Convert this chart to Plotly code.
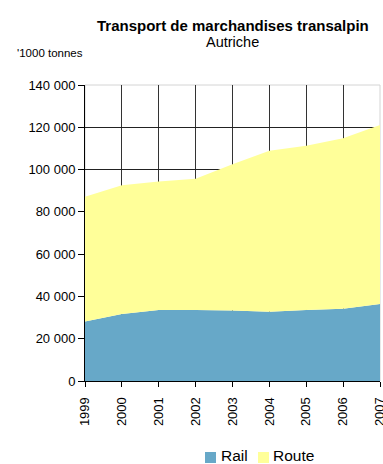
import plotly.graph_objects as go

years = [1999, 2000, 2001, 2002, 2003, 2004, 2005, 2006, 2007]
rail = [28100, 31700, 33600, 33600, 33400, 32800, 33600, 34200, 36400]
total = [87200, 92600, 94300, 95600, 102500, 108900, 111300, 114800, 121100]
route = [t - r for t, r in zip(total, rail)]
y_ticks = [0, 20000, 40000, 60000, 80000, 100000, 120000, 140000]
series_names = ["Rail", "Route"]
series_colors = ["#67A8C8", "#FFFF99"]

FONT = "Liberation Sans, Arial, sans-serif"

# plot area in pixels: left 85, right 380, top 85, bottom 381
L, R, T, B = 85, 380, 85, 381
def px(x):
    return (x - L) / (R - L)
def py(y):
    return (B - y) / (B - T)

fig = go.Figure()
for vals, name, col in zip([rail, route], series_names, series_colors):
    fig.add_trace(go.Scatter(x=years, y=vals, name=name, stackgroup="one", mode="none",
                             fillcolor=col, line=dict(width=0), showlegend=False))

# manual legend (squares + labels)
legend_sq_x = [205, 258]
legend_tx_x = [219, 271]
shapes = [dict(type="rect", xref="paper", yref="paper", x0=0, y0=0, x1=1, y1=1,
               line=dict(color="#d4d4d4", width=1), layer="below")]
annotations = [
    dict(text="<b>Transport de marchandises transalpin</b>", x=0.5, y=py(26), xref="paper", yref="paper",
         showarrow=False, font=dict(size=15), xanchor="center", yanchor="middle"),
    dict(text="Autriche", x=0.5, y=py(42), xref="paper", yref="paper",
         showarrow=False, font=dict(size=14.5), xanchor="center", yanchor="middle"),
    dict(text="'1000 tonnes", x=px(15), y=py(53), xref="paper", yref="paper",
         showarrow=False, font=dict(size=11.5), xanchor="left", yanchor="middle"),
]
for sx, tx, name, col in zip(legend_sq_x, legend_tx_x, series_names, series_colors):
    shapes.append(dict(type="rect", xref="paper", yref="paper", x0=px(sx), x1=px(sx + 11),
                       y0=py(463), y1=py(452), fillcolor=col, line=dict(width=0)))
    annotations.append(dict(text=name, x=px(tx), y=py(455), xref="paper", yref="paper",
                            showarrow=False, font=dict(size=15.5), xanchor="left", yanchor="middle"))

fig.update_layout(
    width=383, height=464,
    margin=dict(l=L, r=383 - R, t=T, b=464 - B, autoexpand=False),
    paper_bgcolor="white", plot_bgcolor="white",
    separators=". ",
    font=dict(family=FONT, size=13, color="black"),
    showlegend=False,
    annotations=annotations,
    shapes=shapes,
)
fig.update_xaxes(range=[1999, 2007], tickvals=years, ticktext=[str(y) for y in years],
                 tickangle=-90, ticks="outside", ticklen=5, tickcolor="black",
                 ticklabeloverflow="allow", ticklabelstandoff=5,
                 showline=True, linecolor="black", linewidth=1,
                 showgrid=True, gridcolor="#333333", gridwidth=1, zeroline=False,
                 tickfont=dict(size=13))
fig.update_yaxes(range=[0, 140000], tickvals=y_ticks, tickformat=",d",
                 ticks="outside", ticklen=6, tickcolor="black",
                 showline=True, linecolor="black", linewidth=1,
                 showgrid=True, gridcolor="#222222", gridwidth=1, zeroline=False,
                 tickfont=dict(size=13))

fig.write_html("out.html")
